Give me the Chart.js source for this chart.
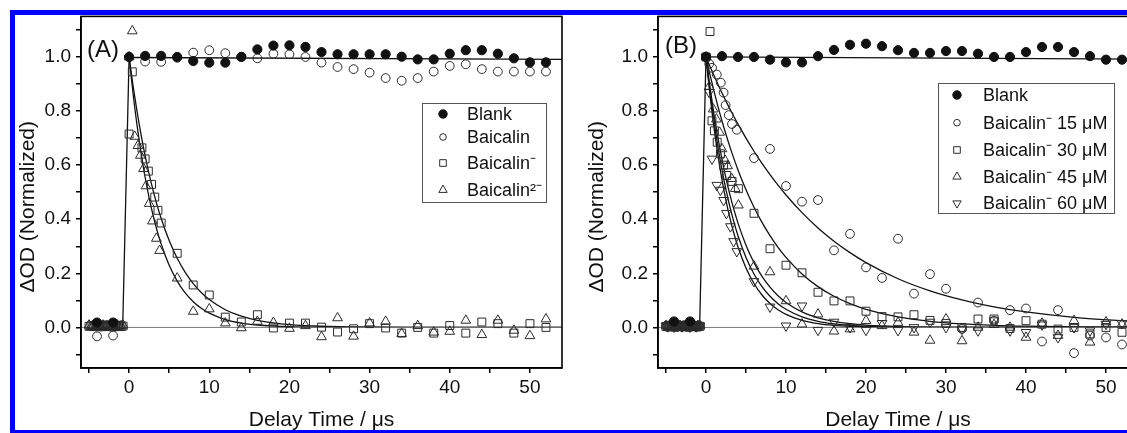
<!DOCTYPE html>
<html><head><meta charset="utf-8">
<script src="https://cdn.jsdelivr.net/npm/chart.js@4.4.1/dist/chart.umd.min.js"></script>
<style>
html,body{margin:0;padding:0;background:#fff;overflow:hidden;width:1127px;height:433px;}
#wrap{position:relative;width:1127px;height:433px;overflow:hidden;}
canvas{position:absolute;top:0;}
#cA{left:0;}
#cB{left:570px;}
#frame{position:absolute;left:10px;top:10px;width:1200px;height:415px;border:5px solid #0000ff;pointer-events:none;z-index:3;}
</style></head>
<body><div id="wrap">
<canvas id="cA" width="580" height="433"></canvas>
<canvas id="cB" width="586" height="433"></canvas>
<div id="frame"></div>
</div>
<script>
// ---------- data ----------
const xTickVals = [-5, 0, 5, 10, 15, 20, 25, 30, 35, 40, 45, 50];
const xTickLabels = [0, 10, 20, 30, 40, 50];
const yTickVals = [-0.1, 0, 0.1, 0.2, 0.3, 0.4, 0.5, 0.6, 0.7, 0.8, 0.9, 1.0, 1.1];
const yTickLabels = [0.0, 0.2, 0.4, 0.6, 0.8, 1.0];
const tBlank = [0,2,4,6,8,10,12,14,16,18,20,22,24,26,28,30,32,34,36,38,40,42,44,46,48,50,52];
const tLate  = [6,8,10,12,14,16,18,20,22,24,26,28,30,32,34,36,38,40,42,44,46,48,50,52];
const tPre   = [-5,-4.75,-4.5,-4.25,-4,-3.75,-3.5,-3.25,-3,-2.75,-2.5,-2.25,-2,-1.75,-1.5,-1.25,-1,-0.75];
const tPreSparse = [-4, -2];

// Panel A
const A_blank_pre = [0.018, 0.018];
const A_blank = [1.0,1.004,1.004,1.0,0.985,0.979,0.979,1.0,1.028,1.042,1.043,1.037,1.018,1.01,1.01,1.01,1.01,1.001,0.991,0.991,1.012,1.025,1.025,1.012,0.995,0.98,0.98];
const A_bai_pre = [-0.033, -0.03];
const A_bai = [1.0,0.983,0.982,0.997,1.016,1.025,1.014,1.001,0.995,1.012,1.01,1.0,0.979,0.963,0.955,0.942,0.922,0.912,0.922,0.946,0.967,0.973,0.955,0.946,0.946,0.946,0.946];
const A_mono_pre = [0.004,0.006,0.003,0.008,0.005,0.002,0.007,0.004,0.009,0.003,0.006,0.005,0.002,0.008,0.004,0.006,0.003,0.005];
const A_mono_tEarly = [0, 0.4, 1.6, 2.0, 2.4, 2.8, 3.2, 3.6, 4.0];
const A_mono_early = [0.715, 0.945, 0.664, 0.623, 0.578, 0.529, 0.482, 0.433, 0.386];
const A_mono_late = [0.274,0.157,0.120,0.038,0.020,0.047,-0.002,0.016,0.016,0.001,-0.017,-0.005,0.014,-0.002,-0.021,0.0,-0.021,0.007,-0.021,0.02,0.014,-0.021,0.014,0.0];
const A_di_pre = [0.008,0.003,0.006,0.002,0.007,0.005,0.003,0.008,0.004,0.006,0.002,0.007,0.005,0.003,0.009,0.004,0.006,0.008];
const A_di_tEarly = [0, 0.4, 0.7, 1.1, 1.4, 1.8, 2.1, 2.5, 2.9, 3.4, 3.8];
const A_di_early = [1.0, 1.096, 0.706, 0.672, 0.636, 0.587, 0.523, 0.458, 0.393, 0.329, 0.284];
const A_di_late = [0.182,0.059,0.068,0.016,-0.002,0.022,0.018,-0.004,0.006,-0.035,0.035,-0.033,0.016,0.022,-0.023,0.006,-0.018,-0.015,0.026,-0.027,0.026,-0.011,-0.031,0.031];

// Panel B
const B_blank_pre = [0.022, 0.022];
const B_blank = [1.0,1.003,1.0,1.0,0.99,0.98,0.98,1.003,1.026,1.045,1.049,1.04,1.025,1.015,1.015,1.022,1.022,1.012,1.0,1.0,1.018,1.037,1.037,1.018,1.003,0.99,0.99];
const B_c15_pre = [0.005,0.002,0.007,0.004,0.006,0.003,0.008,0.005,0.002,0.006,0.004,0.007,0.003,0.005,0.008,0.002,0.006,0.004];
const B_c15_tEarly = [0, 0.4, 0.75, 1.35, 1.85, 2.2, 2.45, 2.85, 3.25, 3.85];
const B_c15_early = [1.0, 0.975, 0.96, 0.935, 0.905, 0.868, 0.822, 0.785, 0.752, 0.731];
const B_c15_late = [0.626,0.66,0.523,0.465,0.471,0.285,0.346,0.222,0.183,0.328,0.125,0.197,0.143,-0.005,0.092,0.025,0.064,0.07,-0.052,0.064,-0.095,-0.03,-0.037,-0.063];
const B_c30_pre = [0.003,0.007,0.004,0.006,0.002,0.008,0.005,0.003,0.006,0.004,0.009,0.002,0.006,0.004,0.003,0.007,0.005,0.004];
const B_c30_tEarly = [0, 0.5, 0.75, 1.05, 1.4, 1.8, 2.2, 2.6, 3.25, 4.05];
const B_c30_early = [1.0, 1.094, 0.764, 0.727, 0.685, 0.642, 0.60, 0.562, 0.54, 0.513];
const B_c30_late = [0.422,0.291,0.23,0.202,0.13,0.098,0.098,0.06,0.04,0.039,0.047,0.026,0.015,0.0,0.031,0.031,-0.004,0.025,0.012,-0.006,0.0,-0.024,0.0,-0.018];
const B_c45_pre = [0.007,0.004,0.002,0.006,0.008,0.003,0.005,0.007,0.002,0.005,0.006,0.003,0.008,0.004,0.006,0.002,0.007,0.005];
const B_c45_tEarly = [0, 0.4, 0.9, 1.3, 1.7, 2.0, 2.4, 2.7, 3.2, 3.65, 4.05];
const B_c45_early = [1.0, 0.89, 0.807, 0.77, 0.721, 0.66, 0.617, 0.597, 0.55, 0.513, 0.452];
const B_c45_late = [0.226,0.205,0.098,0.012,0.049,-0.014,-0.006,0.025,0.006,0.018,-0.018,-0.048,0.031,-0.05,0.0,0.01,0.0,-0.037,0.015,-0.03,0.025,-0.055,0.02,0.012];
const B_c60_pre = [0.006,0.003,0.008,0.005,0.002,0.006,0.004,0.007,0.003,0.008,0.005,0.004,0.002,0.006,0.007,0.003,0.005,0.006];
const B_c60_tEarly = [0, 0.4, 0.75, 1.35, 1.8, 2.2, 2.55, 3.05, 3.45, 3.85];
const B_c60_early = [1.0, 0.87, 0.623, 0.526, 0.508, 0.47, 0.422, 0.373, 0.318, 0.281];
const B_c60_late = [0.17,0.076,0.006,0.08,-0.01,0.02,0.0,-0.01,0.015,-0.011,0.0,0.02,0.0,-0.006,-0.012,0.025,-0.012,-0.018,0.01,-0.037,0.0,-0.012,0.012,0.015];

// Fit curves
const fitT = [0,0.5,1,1.5,2,2.5,3,3.5,4,5,6,7,8,9,10,12,14,16,18,20,24,28,32,36,40,46,54];
const A_fitMono = [1,0.8926,0.7967,0.7111,0.6348,0.5666,0.5057,0.4514,0.4029,0.3210,0.2557,0.2037,0.1623,0.1293,0.1030,0.0654,0.0415,0.0263,0.0167,0.0106,0.0043,0.0017,0.0007,0.0003,0.0001,0,0];
const A_fitDi   = [1,0.8632,0.7452,0.6433,0.5553,0.4794,0.4138,0.3572,0.3084,0.2298,0.1712,0.1276,0.0951,0.0709,0.0528,0.0293,0.0163,0.0090,0.0050,0.0028,0.0009,0.0003,0.0001,0,0,0,0];
const B_fit15 = [1,0.9649,0.9311,0.8984,0.8669,0.8365,0.8071,0.7788,0.7515,0.6997,0.6514,0.6065,0.5647,0.5258,0.4895,0.4244,0.3679,0.3189,0.2765,0.2397,0.1801,0.1353,0.1017,0.0764,0.0574,0.0374,0.0211];
const B_fit30 = [1,0.9347,0.8736,0.8165,0.7632,0.7133,0.6667,0.6231,0.5824,0.5088,0.4445,0.3883,0.3392,0.2963,0.2589,0.1976,0.1508,0.1151,0.0878,0.0670,0.0390,0.0227,0.0132,0.0077,0.0045,0.0020,0.0007];
const B_fit45 = [1,0.8878,0.7881,0.6997,0.6211,0.5514,0.4895,0.4346,0.3858,0.3041,0.2397,0.1889,0.1489,0.1173,0.0925,0.0574,0.0357,0.0222,0.0138,0.0086,0.0033,0.0013,0.0005,0.0002,0,0,0];
const B_fit60a = [1,0.8736,0.7632,0.6667,0.5824,0.5088,0.4445,0.3883,0.3392,0.2589,0.1976,0.1508,0.1151,0.0878,0.0670,0.0390,0.0227,0.0132,0.0077,0.0045,0.0015,0.0005,0.0002,0,0,0,0];
const B_fit60b = [1,0.8594,0.7386,0.6348,0.5455,0.4688,0.4029,0.3463,0.2976,0.2198,0.1623,0.1199,0.0886,0.0654,0.0483,0.0263,0.0144,0.0078,0.0043,0.0023,0.0007,0.0002,0,0,0,0,0];
const riseT = [-0.8, 0], riseY = [0, 1];
const baseT = [-6, 54], baseY = [0, 0];
const blankFitT = [0, 54];
const A_blankFit = [0.998, 0.991];
const B_blankFit = [1.0, 0.992];

const labelsA = ['Blank', 'Baicalin', 'Baicalin\u207B', 'Baicalin\u00B2\u207B'];
const labelsB = ['Blank', 'Baicalin\u207B 15 \u03BCM', 'Baicalin\u207B 30 \u03BCM', 'Baicalin\u207B 45 \u03BCM', 'Baicalin\u207B 60 \u03BCM'];

// ---------- helpers ----------
function pts(...pairs) {
  const out = [];
  for (let k = 0; k < pairs.length; k += 2) {
    const xs = pairs[k], ys = pairs[k + 1];
    xs.forEach((x, i) => out.push({x: x, y: ys[i]}));
  }
  return out;
}
const INK = '#2b2b2b';
const FONT = "'Liberation Sans', Arial, sans-serif";
Chart.defaults.font.family = FONT;

const markStyles = {
  filled: {pointStyle: 'circle', pointRadius: 4.6, pointBackgroundColor: '#111', pointBorderColor: '#111', pointBorderWidth: 1},
  circle: {pointStyle: 'circle', pointRadius: 4.4, pointBackgroundColor: 'rgba(0,0,0,0)', pointBorderColor: INK, pointBorderWidth: 1},
  rect:   {pointStyle: 'rect', pointRadius: 5.6, pointBackgroundColor: 'rgba(0,0,0,0)', pointBorderColor: INK, pointBorderWidth: 1},
  tri:    {pointStyle: 'triangle', pointRadius: 5.6, pointBackgroundColor: 'rgba(0,0,0,0)', pointBorderColor: INK, pointBorderWidth: 1},
  itri:   {pointStyle: 'triangle', pointRotation: 180, pointRadius: 5.6, pointBackgroundColor: 'rgba(0,0,0,0)', pointBorderColor: INK, pointBorderWidth: 1}
};
function markDs(label, data, kind) {
  return Object.assign({label: label, data: data, showLine: false, kind: kind, pointHoverRadius: 0}, markStyles[kind]);
}
function lineDs(data, color, width, smooth) {
  return {label: '', data: data, showLine: true, pointRadius: 0, borderColor: color, borderWidth: width,
          fill: false, cubicInterpolationMode: smooth ? 'monotone' : 'default', tension: 0};
}

function drawMark(ctx, kind, x, y) {
  ctx.save();
  ctx.lineWidth = 1;
  ctx.strokeStyle = kind === 'filled' ? '#111' : INK;
  ctx.fillStyle = '#111';
  ctx.beginPath();
  if (kind === 'filled') ctx.arc(x, y, 4.2, 0, Math.PI * 2);
  else if (kind === 'circle') ctx.arc(x, y, 3.3, 0, Math.PI * 2);
  else if (kind === 'rect') ctx.rect(x - 3.3, y - 3.3, 6.6, 6.6);
  else if (kind === 'tri') { const r = 4.8; ctx.moveTo(x, y - r); ctx.lineTo(x + r * 0.866, y + r * 0.5); ctx.lineTo(x - r * 0.866, y + r * 0.5); ctx.closePath(); }
  else if (kind === 'itri') { const r = 4.8; ctx.moveTo(x, y + r); ctx.lineTo(x + r * 0.866, y - r * 0.5); ctx.lineTo(x - r * 0.866, y - r * 0.5); ctx.closePath(); }
  if (kind === 'filled') ctx.fill();
  ctx.stroke();
  ctx.restore();
}

const panelPlugin = {
  id: 'panel',
  afterDatasetsDraw(chart, args, opts) {
    const ctx = chart.ctx, a = chart.chartArea;
    ctx.save();
    ctx.strokeStyle = '#000';
    ctx.lineWidth = 1.6;
    ctx.strokeRect(a.left, a.top, a.right - a.left, a.bottom - a.top);
    ctx.fillStyle = '#111';
    ctx.font = '24px ' + FONT;
    ctx.textBaseline = 'alphabetic';
    ctx.textAlign = 'left';
    ctx.fillText(opts.tag, opts.tagX, opts.tagY);
    const L = opts.legend;
    ctx.lineWidth = 1;
    ctx.strokeStyle = '#555';
    ctx.strokeRect(L.x + 0.5, L.y + 0.5, L.w, L.h);
    ctx.font = '18px ' + FONT;
    ctx.textBaseline = 'middle';
    const dsList = chart.data.datasets.filter(d => d.kind);
    dsList.forEach((d, i) => {
      const y = L.rows[i];
      drawMark(ctx, d.kind, L.markX, y);
      ctx.fillStyle = '#111';
      ctx.fillText(d.label, L.textX, y + 1);
    });
    ctx.restore();
  }
};

function axisOpts(yAxisWidth, yPad) {
  return {
    x: {
      type: 'linear', min: -6, max: 54,
      afterFit: s => { s.height = 65; },
      afterBuildTicks: s => { s.ticks = xTickVals.map(v => ({value: v})); },
      ticks: {autoSkip: false, maxRotation: 0, padding: 3, color: '#111', font: {size: 19},
              callback: v => xTickLabels.includes(v) ? String(v) : ''},
      grid: {drawOnChartArea: false, drawTicks: true, tickLength: 5, color: '#000', lineWidth: 1.5},
      border: {display: true, color: '#000', width: 1.6},
      title: {display: true, text: 'Delay Time / \u03BCs', color: '#111', font: {size: 21}, padding: {top: 0, bottom: 0}}
    },
    y: {
      type: 'linear', min: -0.15, max: 1.15,
      afterFit: s => { s.width = yAxisWidth; },
      afterBuildTicks: s => { s.ticks = yTickVals.map(v => ({value: v})); },
      ticks: {autoSkip: false, padding: 5, color: '#111', font: {size: 19},
              callback: v => yTickLabels.some(t => Math.abs(t - v) < 1e-9) ? v.toFixed(1) : ''},
      grid: {drawOnChartArea: false, drawTicks: true, tickLength: 5, color: '#000', lineWidth: 1.5},
      border: {display: true, color: '#000', width: 1.6},
      title: {display: true, text: '\u0394OD (Normalized)     ', color: '#111', font: {size: 21}, padding: {top: yPad, bottom: 0}}
    }
  };
}

function baseOptions(yAxisWidth, yPad, plug) {
  return {
    responsive: false, animation: false, devicePixelRatio: 1,
    layout: {padding: {top: 15, right: 18, left: 0, bottom: 0}},
    scales: axisOpts(yAxisWidth, yPad),
    plugins: {legend: {display: false}, tooltip: {enabled: false}, panel: plug}
  };
}

// ---------- Panel A ----------
new Chart(document.getElementById('cA'), {
  type: 'scatter',
  data: {datasets: [
    markDs(labelsA[0], pts(tPreSparse, A_blank_pre, tBlank, A_blank), 'filled'),
    markDs(labelsA[1], pts(tPreSparse, A_bai_pre, tBlank, A_bai), 'circle'),
    markDs(labelsA[2], pts(tPre, A_mono_pre, A_mono_tEarly, A_mono_early, tLate, A_mono_late), 'rect'),
    markDs(labelsA[3], pts(tPre, A_di_pre, A_di_tEarly, A_di_early, tLate, A_di_late), 'tri'),
    lineDs(pts(baseT, baseY), '#777', 1, false),
    lineDs(pts(riseT, riseY), '#111', 1.3, false),
    lineDs(pts(blankFitT, A_blankFit), '#111', 1.3, false),
    lineDs(pts(fitT, A_fitMono), '#111', 1.3, true),
    lineDs(pts(fitT, A_fitDi), '#111', 1.3, true)
  ]},
  options: baseOptions(81, 16, {
    tag: '(A)', tagX: 87, tagY: 57,
    legend: {x: 422, y: 103, w: 124, h: 99, markX: 443, textX: 467, rows: [114, 137, 163, 190]}
  }),
  plugins: [panelPlugin]
});

// ---------- Panel B ----------
new Chart(document.getElementById('cB'), {
  type: 'scatter',
  data: {datasets: [
    markDs(labelsB[0], pts(tPreSparse, B_blank_pre, tBlank, B_blank), 'filled'),
    markDs(labelsB[1], pts(tPre, B_c15_pre, B_c15_tEarly, B_c15_early, tLate, B_c15_late), 'circle'),
    markDs(labelsB[2], pts(tPre, B_c30_pre, B_c30_tEarly, B_c30_early, tLate, B_c30_late), 'rect'),
    markDs(labelsB[3], pts(tPre, B_c45_pre, B_c45_tEarly, B_c45_early, tLate, B_c45_late), 'tri'),
    markDs(labelsB[4], pts(tPre, B_c60_pre, B_c60_tEarly, B_c60_early, tLate, B_c60_late), 'itri'),
    lineDs(pts(baseT, baseY), '#777', 1, false),
    lineDs(pts(riseT, riseY), '#111', 1.3, false),
    lineDs(pts(blankFitT, B_blankFit), '#111', 1.3, false),
    lineDs(pts(fitT, B_fit15), '#111', 1.3, true),
    lineDs(pts(fitT, B_fit30), '#111', 1.3, true),
    lineDs(pts(fitT, B_fit45), '#111', 1.3, true),
    lineDs(pts(fitT, B_fit60a), '#111', 1.3, true),
    lineDs(pts(fitT, B_fit60b), '#111', 1.3, true)
  ]},
  options: baseOptions(88, 15, {
    tag: '(B)', tagX: 95, tagY: 53,
    legend: {x: 368, y: 83, w: 176, h: 130, markX: 387, textX: 413, rows: [95, 122.7, 150, 176.7, 203.3]}
  }),
  plugins: [panelPlugin]
});
</script>
</body></html>
